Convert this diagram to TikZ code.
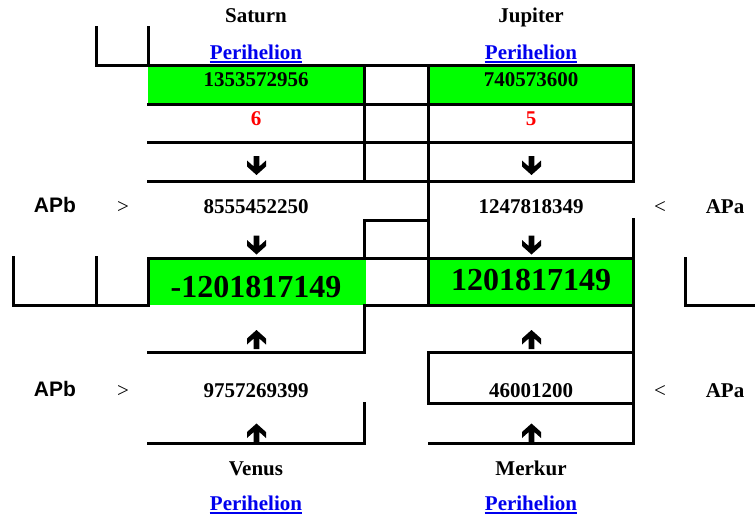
\documentclass[tikz,border=0pt]{standalone}
\usepackage{fontspec}
\setmainfont{Liberation Serif}
\setsansfont{Liberation Sans}
\definecolor{cellgreen}{RGB}{0,255,0}
\definecolor{linkblue}{RGB}{0,0,238}
\definecolor{numred}{RGB}{255,0,0}
\tikzset{
  rule/.style={line width=3pt, line cap=rect, line join=miter},
  txt/.style={inner sep=0pt, anchor=base, font=\fontsize{21pt}{25pt}\selectfont\bfseries},
  bigtxt/.style={inner sep=0pt, anchor=base, font=\fontsize{32pt}{36pt}\selectfont\bfseries},
  reltxt/.style={inner sep=0pt, anchor=base, font=\fontsize{21pt}{25pt}\selectfont},
  sanstxt/.style={inner sep=0pt, anchor=base, font=\fontsize{21pt}{25pt}\selectfont\sffamily\bfseries},
  linktxt/.style={txt, text=linkblue},
  redtxt/.style={txt, text=numred},
  dnarrow/.pic={\fill (-2.8pt,9.5pt) -- (2.8pt,9.5pt) -- (2.8pt,-1pt) -- (9.5pt,5pt) -- (9.5pt,-1pt) -- (0pt,-9.5pt) -- (-9.5pt,-1pt) -- (-9.5pt,5pt) -- (-2.8pt,-1pt) -- cycle;},
  uparrow/.pic={\fill (-2.8pt,-9.5pt) -- (2.8pt,-9.5pt) -- (2.8pt,1pt) -- (9.5pt,-5pt) -- (9.5pt,1pt) -- (0pt,9.5pt) -- (-9.5pt,1pt) -- (-9.5pt,-5pt) -- (-2.8pt,1pt) -- cycle;},
  uline/.style={linkblue, line width=1.5pt}
}
\begin{document}
\begin{tikzpicture}[x=1pt,y=-1pt]
\useasboundingbox (0,0) rectangle (755,519);
% green cells
\fill[cellgreen] (148,66) rectangle (364,104);
\fill[cellgreen] (428,66) rectangle (633,104);
\fill[cellgreen] (148,258) rectangle (365.5,305);
\fill[cellgreen] (428,258) rectangle (633,305);
% table rules
\draw[rule] (96,28) -- (96,66) -- (633,66) -- (633,181) -- (148,181);
\draw[rule] (148,28) -- (148,66);
\draw[rule] (148,104) -- (633,104);
\draw[rule] (148,142.5) -- (633,142.5);
\draw[rule] (364,66) -- (364,181);
\draw[rule] (428,66) -- (428,305);
\draw[rule] (364,258) -- (364,220) -- (428,220);
\draw[rule] (633,219) -- (633,443) -- (429,443);
\draw[rule] (148,258) -- (633,258);
\draw[rule] (148,258) -- (148,305) -- (13,305) -- (13,257);
\draw[rule] (96,257) -- (96,305);
\draw[rule] (364,305) -- (633,305);
\draw[rule] (364,305) -- (364,352.5) -- (148,352.5);
\draw[rule] (428,403) -- (428,352.5) -- (633,352.5);
\draw[rule] (428,403) -- (633,403);
\draw[rule] (364,403) -- (364,443) -- (148,443);
\draw[rule] (685,258) -- (685,305) -- (755,305);
% headers
\node[txt] (sat) at (256,23) {Saturn};
\node[txt] (jup) at (531,23) {Jupiter};
\node[linktxt] (p1) at (256,59.5) {Perihelion};
\node[linktxt] (p2) at (531,59.5) {Perihelion};
\draw[uline] ([yshift=-2.5pt]p1.base west) -- ([yshift=-2.5pt]p1.base east);
\draw[uline] ([yshift=-2.5pt]p2.base west) -- ([yshift=-2.5pt]p2.base east);
% top values
\node[txt] (s1) at (256,86) {1353572956};
\node[txt] (j1) at (531,86) {740573600};
\node[redtxt] (s2) at (256,125) {6};
\node[redtxt] (j2) at (531,125) {5};
\pic at (256.5,165.5) {dnarrow};
\pic at (531.5,165.5) {dnarrow};
% row APb/APa upper
\node[sanstxt] (apb1) at (55,212.5) {APb};
\node[reltxt] (gt1) at (123,213) {>};
\node[txt] (s3) at (256,213) {8555452250};
\node[txt] (j3) at (531,213) {1247818349};
\node[reltxt] (lt1) at (660,213) {<};
\node[txt] (apa1) at (725,213) {APa};
\pic at (256.5,245) {dnarrow};
\pic at (531.5,245) {dnarrow};
% results
\node[bigtxt] (res1) at (256,297) {-1201817149};
\node[bigtxt] (res2) at (531,290) {1201817149};
% lower part
\pic at (256.5,339.5) {uparrow};
\pic at (531.5,339.5) {uparrow};
\node[sanstxt] (apb2) at (55,396) {APb};
\node[reltxt] (gt2) at (123,397) {>};
\node[txt] (v1) at (256,397.5) {9757269399};
\node[txt] (m1) at (531,397.5) {46001200};
\node[reltxt] (lt2) at (660,397) {<};
\node[txt] (apa2) at (725,397) {APa};
\pic at (256.5,433) {uparrow};
\pic at (531.5,433) {uparrow};
\node[txt] (ven) at (256,475) {Venus};
\node[txt] (mer) at (531,475) {Merkur};
\node[linktxt] (p3) at (256,510.5) {Perihelion};
\node[linktxt] (p4) at (531,510.5) {Perihelion};
\draw[uline] ([yshift=-2.5pt]p3.base west) -- ([yshift=-2.5pt]p3.base east);
\draw[uline] ([yshift=-2.5pt]p4.base west) -- ([yshift=-2.5pt]p4.base east);
\end{tikzpicture}
\end{document}
